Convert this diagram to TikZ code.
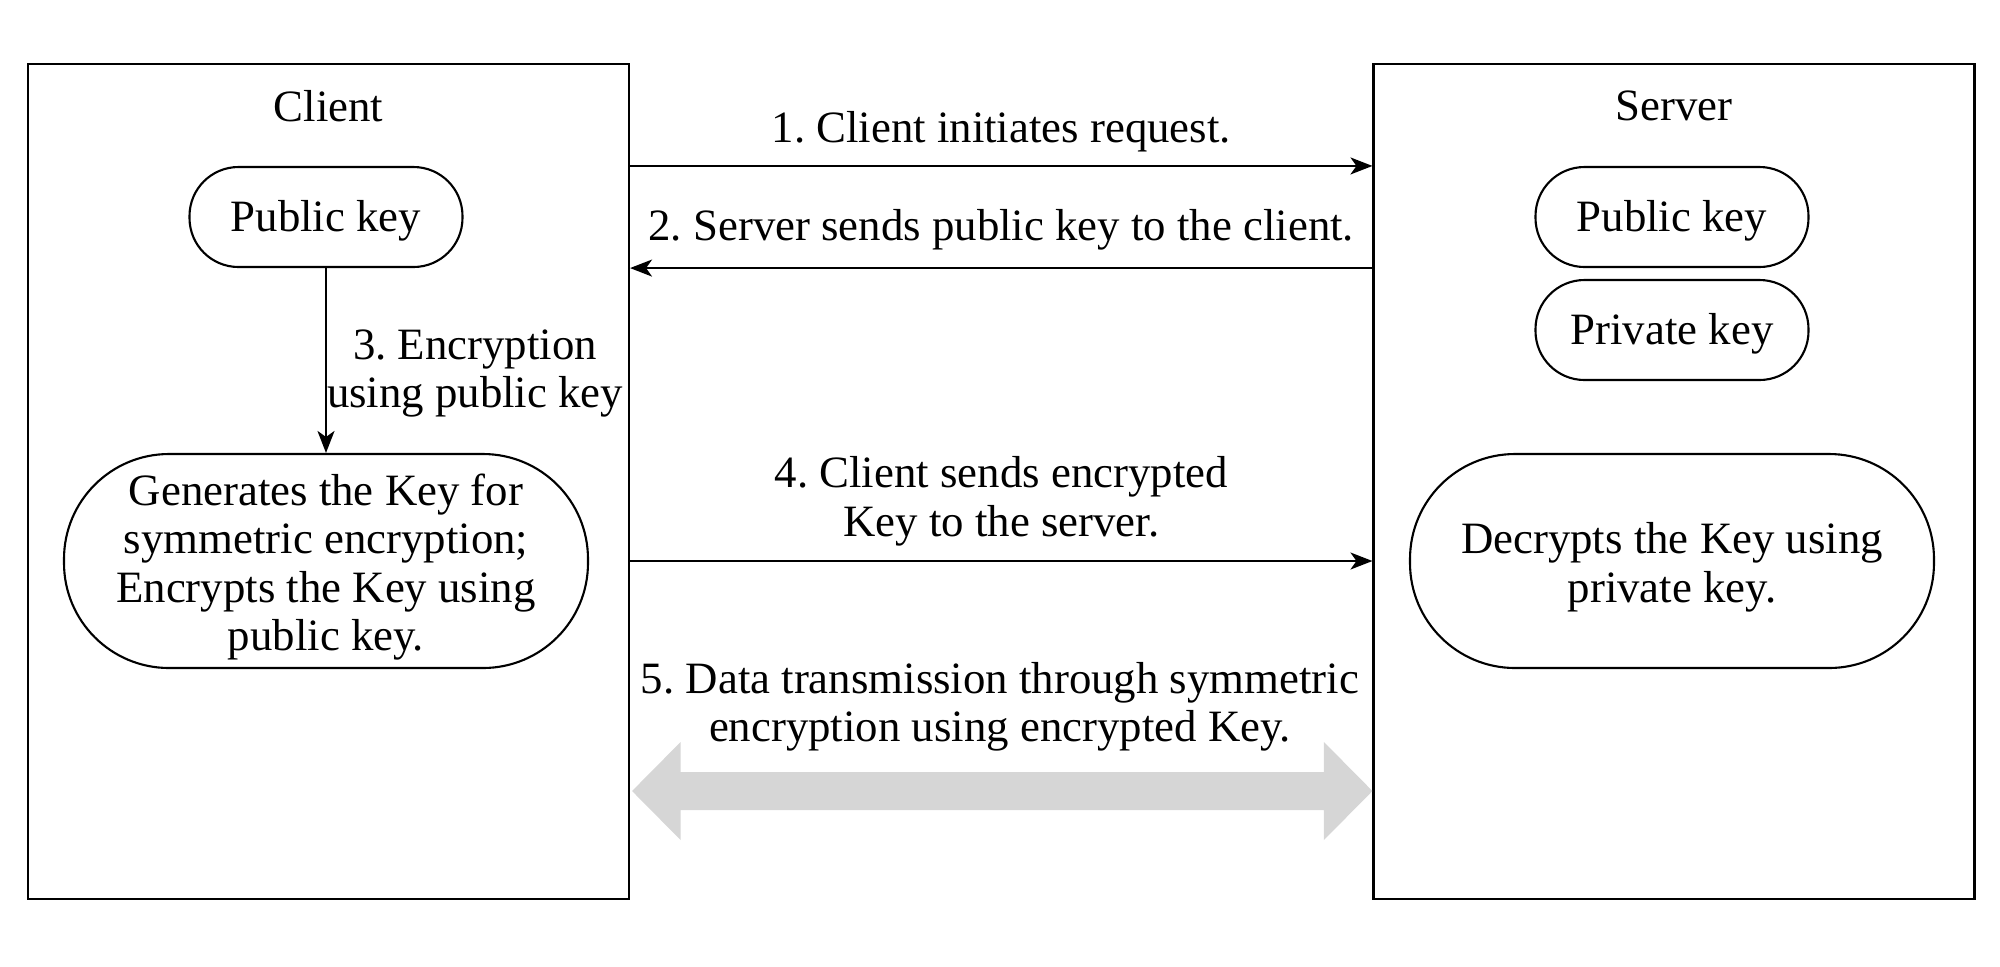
\documentclass[tikz,border=0pt]{standalone}
\usepackage{fontspec}
\setmainfont{Liberation Serif}
\usetikzlibrary{arrows.meta}
\usetikzlibrary{calc}
\frenchspacing
\newcommand\felso{\rule{0pt}{4.35mm}}

\begin{document}
\begin{tikzpicture}[>={Stealth[length=2.2mm, width=1.7mm, inset=.6mm]},
font=\fontsize{12.75}{13.8}\selectfont, line width=.6pt,
party/.style={draw, minimum width=6.01cm, minimum height=8.35cm, inner sep=0},
cim/.style={inner sep=0},
kulcs/.style={draw, minimum width=2.73cm, minimum height=1cm, rounded corners=.49cm, inner sep=0, execute at begin node={\rule{0pt}{3.85mm}}},
muvelet/.style={draw, minimum width=5.24cm, minimum height=2.14cm, rounded corners=1.05cm, inner sep=0, align=center},
uzenet/.style={->},
felirat/.style={inner sep=0, align=center},
adat/.style={fill=black!16, draw=none}]
\useasboundingbox (0,0) rectangle (20,-9.66);
\node[party] (cbox) at (3.285,-4.815) {};
\node[party] (sbox) at (16.74,-4.815) {};
\node[cim] (ctitle) at (3.285,-1.06) {Client};
\node[cim] (stitle) at (16.74,-1.06) {Server};
\node[kulcs] (cpub) at (3.26,-2.17) {Public key};
\node[kulcs] (spub) at (16.72,-2.17) {Public key};
\node[kulcs] (spriv) at (16.72,-3.30) {Private key};
\node[muvelet] (cgen) at (3.26,-5.61) {\felso Generates the Key for\\symmetric encryption;\\Encrypts the Key using\\public key.};
\node[muvelet] (sdec) at (16.72,-5.61) {\felso Decrypts the Key using\\private key.};
\coordinate (d5) at (10,-7.91);
\draw[uzenet] (cpub.north -| cbox.east) -- (cpub.north -| sbox.west) node[felirat, midway, above=.13cm]{1. Client initiates request.};
\draw[uzenet] (spub.south -| sbox.west) -- (spub.south -| cbox.east) node[felirat, midway, above=.165cm]{2. Server sends public key to the client.};
\draw[uzenet] (cpub) -- (cgen) node[felirat, pos=.57, right]{3. Encryption\\using public key};
\draw[uzenet] (cgen -| cbox.east) -- (cgen -| sbox.west) node[felirat, midway, above=.14cm]{4. Client sends encrypted\\Key to the server.};
\node[felirat] (l5) at (10,-7.07) {5. Data transmission through symmetric\\encryption using encrypted Key.};
\fill[adat] ($(cbox.east |- d5)+(.02,0)$) -- ++(.485,.49) -- ++(0,-.3) -- ($(sbox.west |- d5)+(-.485,.19)$) -- ++(0,.3) -- (sbox.west |- d5) -- ++(-.485,-.49) -- ++(0,.3) -- ($(cbox.east |- d5)+(.505,-.19)$) -- ++(0,-.3) -- cycle;
\end{tikzpicture}
\end{document}
